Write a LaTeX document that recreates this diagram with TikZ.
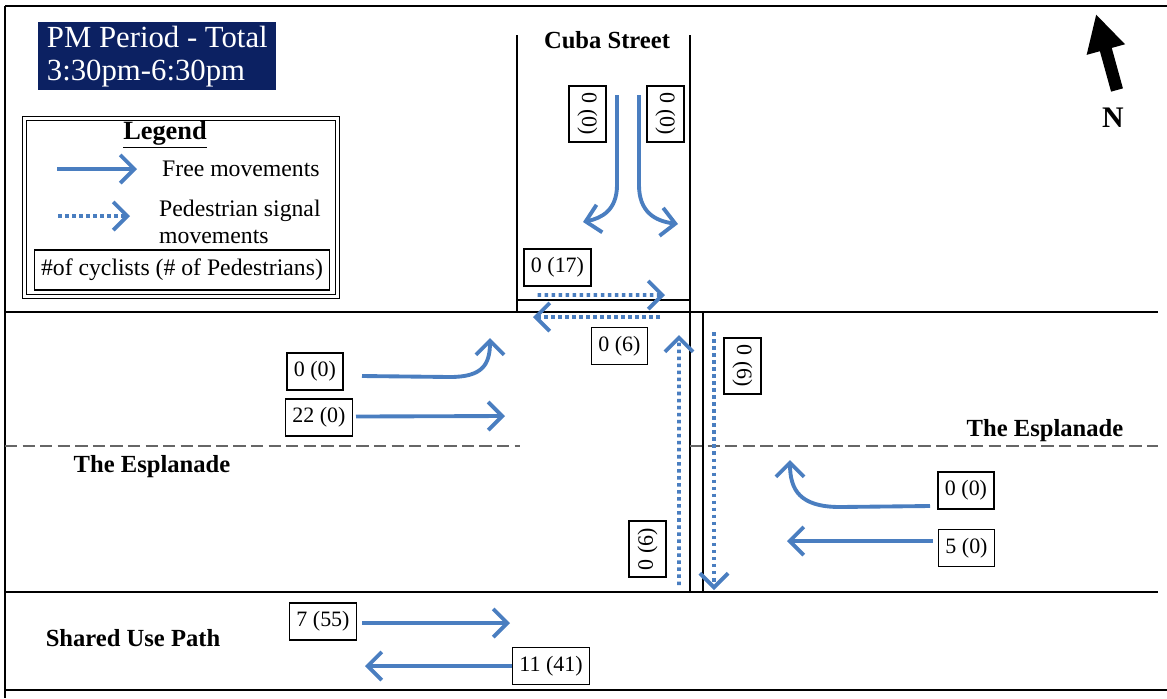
\documentclass[tikz,border=0pt]{standalone}
\usepackage{fontspec}
\setmainfont{Liberation Serif}
\usetikzlibrary{arrows.meta,positioning}
\definecolor{flowblue}{HTML}{4A7EC0}
\definecolor{titlenavy}{HTML}{0C2162}
\tikzset{
  free/.style={flowblue,line width=2.2pt,-{Straight Barb[length=8pt,width=16pt]}},
  pedsig/.style={free,dash pattern=on 2pt off 2pt},
  count/.style={draw,line width=0.9pt,inner xsep=4pt,minimum height=0.74cm,
    font=\fontsize{12.5}{14}\selectfont},
  road/.style={line width=1pt},
  roadname/.style={font=\fontsize{14}{16}\selectfont\bfseries},
  legendtext/.style={font=\fontsize{13.5}{15}\selectfont,align=left,anchor=west}
}
\begin{document}
\begin{tikzpicture}[x=0.02cm,y=-0.02cm]
  \useasboundingbox (0,0) rectangle (1167,698);
  % frame and road edges
  \draw[road] (5,6) -- (1167,6);
  \draw[road] (5,6) -- (5,698);
  \draw[road] (5,690) -- (1167,690);
  \draw[road] (5,312) -- (1158,312);
  \draw[road] (5,592) -- (1158,592);
  \draw[road] (517,35) -- (517,312);
  \draw[road] (690,35) -- (690,592);
  \draw[road,line width=0.8pt] (517,300) -- (690,300);
  \draw[road,line width=0.8pt] (703,312) -- (703,592);
  \draw[gray!80!black,line width=0.8pt,dash pattern=on 7pt off 3pt] (5,446) -- (520,446);
  \draw[gray!80!black,line width=0.8pt,dash pattern=on 7pt off 3pt] (690,446) -- (1158,446);

  \node[roadname] (cuba) at (607,40) {Cuba Street};
  \node[roadname] (espw) at (152,467) {The Esplanade};
  \node[roadname] (espe) at (1045,431) {The Esplanade};
  \node[roadname] (sup) at (133,638) {Shared Use Path};

  % title and legend
  \node[fill=titlenavy,text=white,anchor=north west,minimum width=4.76cm,inner xsep=0.1cm,
    inner ysep=1pt,minimum height=1.36cm,align=left,font=\fontsize{17.5}{19}\selectfont] (title) at (38,22)
    {PM Period - Total\\ 3:30pm-6:30pm};
  \node[draw,double,double distance=1.2pt,line width=0.8pt,minimum width=6.26cm,
    minimum height=3.56cm] (legend) at (181,207.5) {};
  \node[font=\fontsize{15}{17}\selectfont\bfseries] (legendhead) at (165,135) {\underline{Legend}};
  \coordinate (lfree) at (57,169);
  \coordinate (lped) at (58,216);
  \draw[free] (lfree) -- (137,169);
  \draw[pedsig] (lped) -- (130,216);
  \node[legendtext] (freetext) at (156,169) {Free movements};
  \node[legendtext] (pedtext) at (153,222) {Pedestrian signal\\ movements};
  \node[draw,line width=0.9pt,minimum width=5.9cm,minimum height=0.8cm,
    font=\fontsize{13.5}{15}\selectfont] (key) at (182,270) {\#of cyclists (\# of Pedestrians)};

  % north arrow
  \coordinate (ntail) at (1117,90);
  \draw[line width=7pt,-{Triangle[length=21pt,width=21pt]}] (ntail) -- (1096,14);
  \node[font=\fontsize{17}{19}\selectfont\bfseries] (north) at (1113,118) {N};

  % counts
  \node[count,rotate=-90] (cubal) at (587.5,114) {0 (0)};
  \node[count,rotate=-90] (cubar) at (665.5,114) {0 (0)};
  \node[count] (xwn) at (557.5,267.5) {0 (17)};
  \node[count] (xwnb) at (619.5,346) {0 (6)};
  \node[count,rotate=-90] (xwe) at (742.5,366) {0 (6)};
  \node[count,rotate=90] (xww) at (647.5,549) {0 (6)};
  \node[count] (wleft) at (315,371.5) {0 (0)};
  \node[count] (wthru) at (319,417.5) {22 (0)};
  \node[count] (eleft) at (966,490.5) {0 (0)};
  \node[count] (ethru) at (966.5,548) {5 (0)};
  \node[count] (supe) at (323,621.5) {7 (55)};
  \node[count] (supw) at (551,666) {11 (41)};

  % movements
  \draw[free] (cubal.center) ++(29.5,-19) -- ++(0,90) .. controls (617,210) and (602,218) .. (583,222);
  \draw[free] (cubar.center) ++(-26.5,-19) -- ++(0,90) .. controls (639,212) and (655,221) .. (678,224);
  \draw[pedsig] (xwn.center) ++(-20,27.5) -- (665,295);
  \draw[pedsig] (xwnb.center) ++(40.5,-29) -- (533,317);
  \draw[pedsig] (xww.center) ++(31.5,36) -- (679,335);
  \draw[pedsig] (xwe.center) ++(-28.5,-34) -- (714,590);
  \draw[free] (wleft.center) ++(47,4.5) -- (450,377) .. controls (482,377) and (490,365) .. (490,338);
  \draw[free] (wthru.center) ++(37,-1) -- (505,416);
  \draw[free] (eleft.center) ++(-36,15.5) -- (840,507) .. controls (800,507) and (790,490) .. (790,460);
  \draw[free] (ethru.center) ++(-33.5,-7) -- (787,541);
  \draw[free] (supe.center) ++(39,1.5) -- (510,623);
  \draw[free] (supw.center) ++(-39,0) -- (365,666);
\end{tikzpicture}
\end{document}
